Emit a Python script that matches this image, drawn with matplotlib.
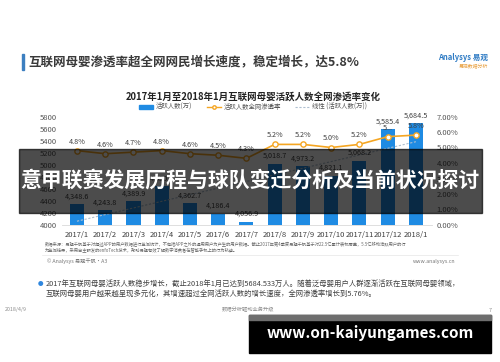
import numpy as np
import matplotlib
matplotlib.use('Agg')
import matplotlib.pyplot as plt
from matplotlib.patches import Rectangle
from matplotlib.lines import Line2D

plt.rcParams['font.family'] = ['Noto Sans CJK SC', 'DejaVu Sans']

# ============================================================
# 数据
# ============================================================
months = ['2017/1', '2017/2', '2017/3', '2017/4', '2017/5', '2017/6', '2017/7',
          '2017/8', '2017/9', '2017/10', '2017/11', '2017/12', '2018/1']
active_users = [4348.6, 4243.8, 4389.9, 4650.0, 4362.7, 4186.4, 4056.9,
                5018.7, 4973.2, 4821.1, 5068.2, 5585.4, 5684.5]   # 万
penetration = [4.8, 4.6, 4.7, 4.8, 4.6, 4.5, 4.3, 5.2, 5.2, 5.0, 5.2, 5.7, 5.8]  # %
pct_labels = ['4.8%', '4.6%', '4.7%', '4.8%', '4.6%', '4.5%', '4.3%',
              '5.2%', '5.2%', '5.0%', '5.2%', '5...', '5.8%']
left_ticks = [4000, 4200, 4400, 4600, 4800, 5000, 5200, 5400, 5600, 5800]
right_ticks = [0, 1, 2, 3, 4, 5, 6, 7]

W, H = 500, 362
BLUE = '#1F8BE3'
ORANGE = '#F5A623'
TXT = '#404040'


def fx(x):
    return x / W


def fy(y):
    return 1 - y / H


fig = plt.figure(figsize=(W / 100, H / 100), dpi=100)
fig.patch.set_facecolor('white')

# --- 页面标题 ---
fig.patches.append(Rectangle((fx(22), fy(70)), 2 / W, 16 / H, transform=fig.transFigure,
                             color='#3C7FC0', zorder=2))
fig.text(fx(28), fy(62), '互联网母婴渗透率超全网网民增长速度，稳定增长，达5.8%',
         fontsize=9, color='#3a3a3a', fontweight='bold', va='center', ha='left')
fig.text(fx(488), fy(58), 'Analysys 易观', fontsize=5.5, color='#2E7BC4',
         style='italic', fontweight='bold', va='center', ha='right')
fig.text(fx(488), fy(67), '易观数据分析', fontsize=3.5, color='#E8A040',
         va='center', ha='right')

# --- 图表标题 ---
fig.text(fx(253), fy(97), '2017年1月至2018年1月互联网母婴活跃人数全网渗透率变化',
         fontsize=6.8, fontweight='bold', color='#222222', ha='center', va='center')

# ============================================================
# 主图
# ============================================================
ax = fig.add_axes([fx(62), fy(225), (432 - 62) / W, (225 - 116.5) / H])
x = np.arange(len(months))
bars = ax.bar(x, active_users, width=0.5, color=BLUE, zorder=2)
ax.set_xlim(-0.53, 12.57)
ax.set_ylim(4000, 5800)
ax.set_yticks(left_ticks)
ax.set_yticklabels([str(t) for t in left_ticks])
ax.set_xticks(x)
ax.set_xticklabels(months)
ax.tick_params(axis='both', length=0, labelsize=5.5, labelcolor='#555555')
ax.tick_params(axis='x', pad=4, labelcolor=TXT)
ax.tick_params(axis='y', pad=3.5)
for s in ['top', 'right', 'left']:
    ax.spines[s].set_visible(False)
ax.spines['bottom'].set_color('#D9D9D9')
ax.spines['bottom'].set_linewidth(0.6)

for xi, v in zip(x, active_users):
    ax.annotate(f'{v:,.1f}', (xi, v), xytext=(0, 5.5), textcoords='offset points',
                ha='center', va='center', fontsize=5.2, color=TXT, zorder=5)

# 线性趋势（对活跃人数拟合）
k, b = np.polyfit(x, active_users, 1)
trend, = ax.plot(x, k * x + b, color='#AEBFD0', lw=0.8, ls=(0, (2, 1.5)), zorder=3)

ax2 = ax.twinx()
ax2.set_ylim(0, 7)
ax2.set_yticks(right_ticks)
ax2.set_yticklabels([f'{t:.2f}%' for t in right_ticks])
ax2.tick_params(axis='y', length=0, labelsize=5.5, labelcolor='#555555', pad=3.5)
for s in ax2.spines.values():
    s.set_visible(False)
line, = ax2.plot(x, penetration, color=ORANGE, lw=1.2, marker='o', markersize=3.8,
                 markerfacecolor='white', markeredgecolor=ORANGE, markeredgewidth=1,
                 zorder=4)
for xi, p, lab in zip(x, penetration, pct_labels):
    ax2.annotate(lab, (xi, p), xytext=(0, 6.5), textcoords='offset points',
                 ha='center', va='center', fontsize=5.2, color=TXT)

# 图例
handles = [Rectangle((0, 0), 1, 1, color=BLUE),
           Line2D([0], [0], color=ORANGE, lw=1, marker='o', markersize=2.5,
                  markerfacecolor='white', markeredgecolor=ORANGE),
           Line2D([0], [0], color='#AEBFD0', lw=0.8, ls=(0, (2, 1.5)))]
fig.legend(handles, ['活跃人数(万)', '活跃人数全网渗透率', '线性 (活跃人数(万))'],
           loc='center', bbox_to_anchor=(fx(253), fy(107)), ncol=3, frameon=False,
           fontsize=4.6, handlelength=2.2, handleheight=0.5, columnspacing=2.3,
           handletextpad=0.4, labelcolor='#555555')

# --- 数据来源 ---
fig.text(fx(45), fy(245),
         '数据来源：易观千帆基于对超过APP的用户数据进行监测统计，不包括APP之外的通用用户为产生的用户数据。'
         '截止2017年第4季度易观千帆基于对22.5亿累计装机覆盖，5.5亿移动活跃用户的行',
         fontsize=3.1, color='#666666', va='center', ha='left')
fig.text(fx(45), fy(250.5),
         '为监测结果，采用自主研发的enfoTech技术，帮助易观有效了解数字消费者在智能手机上的行为轨迹。',
         fontsize=3.1, color='#666666', va='center', ha='left')
fig.lines.append(Line2D([fx(42), fx(458)], [fy(255), fy(255)], transform=fig.transFigure,
                        color='#E6E6E6', lw=0.5))
fig.text(fx(47), fy(261), '© Analysys 易观千帆·A3', fontsize=3.8, color='#777777',
         va='center', ha='left')
fig.text(fx(455), fy(261), 'www.analysys.cn', fontsize=3.8, color='#777777',
         va='center', ha='right')

# --- 说明文字 ---
fig.text(fx(41), fy(284), '●', fontsize=4, color='#2E86DE', va='center', ha='center')
fig.text(fx(46), fy(284),
         '2017年互联网母婴活跃人数稳步增长，截止2018年1月已达到5684.533万人。随着泛母婴用户人群逐渐活跃在互联网母婴领域，',
         fontsize=5.3, color=TXT, va='center', ha='left')
fig.text(fx(46), fy(293.5),
         '互联网母婴用户越来越呈现多元化，其增速超过全网活跃人数的增长速度，全网渗透率增长到5.76%。',
         fontsize=5.3, color=TXT, va='center', ha='left')

# --- 页脚 ---
fig.text(fx(5), fy(310), '2018/4/9', fontsize=3.8, color='#8c8c8c', va='center', ha='left')
fig.text(fx(248), fy(310), '数据分析驱动业务升级', fontsize=3.8, color='#8c8c8c',
         va='center', ha='center')
fig.text(fx(490), fy(310), '7', fontsize=3.8, color='#8c8c8c', va='center', ha='center')

# ============================================================
# 叠加横幅
# ============================================================
fig.patches.append(Rectangle((fx(19), fy(213)), (482 - 19) / W, (213 - 149) / H,
                             transform=fig.transFigure, color='black', alpha=0.7, zorder=20))
fig.text(fx(250), fy(180), '意甲联赛发展历程与球队变迁分析及当前状况探讨',
         fontsize=15, fontweight='bold', color='white', ha='center', va='center', zorder=21)

fig.patches.append(Rectangle((fx(249), fy(353)), (491 - 249) / W, (353 - 315) / H,
                             transform=fig.transFigure, color='black', zorder=20))
fig.patches.append(Rectangle((fx(249), fy(320)), (491 - 249) / W, 5 / H,
                             transform=fig.transFigure, color='#6E6E6E', zorder=21))
fig.text(fx(370), fy(333), 'www.on-kaiyungames.com', fontsize=11, fontweight='bold',
         color='white', ha='center', va='center', zorder=22)

fig.savefig('out.png', dpi=100, facecolor='white')
